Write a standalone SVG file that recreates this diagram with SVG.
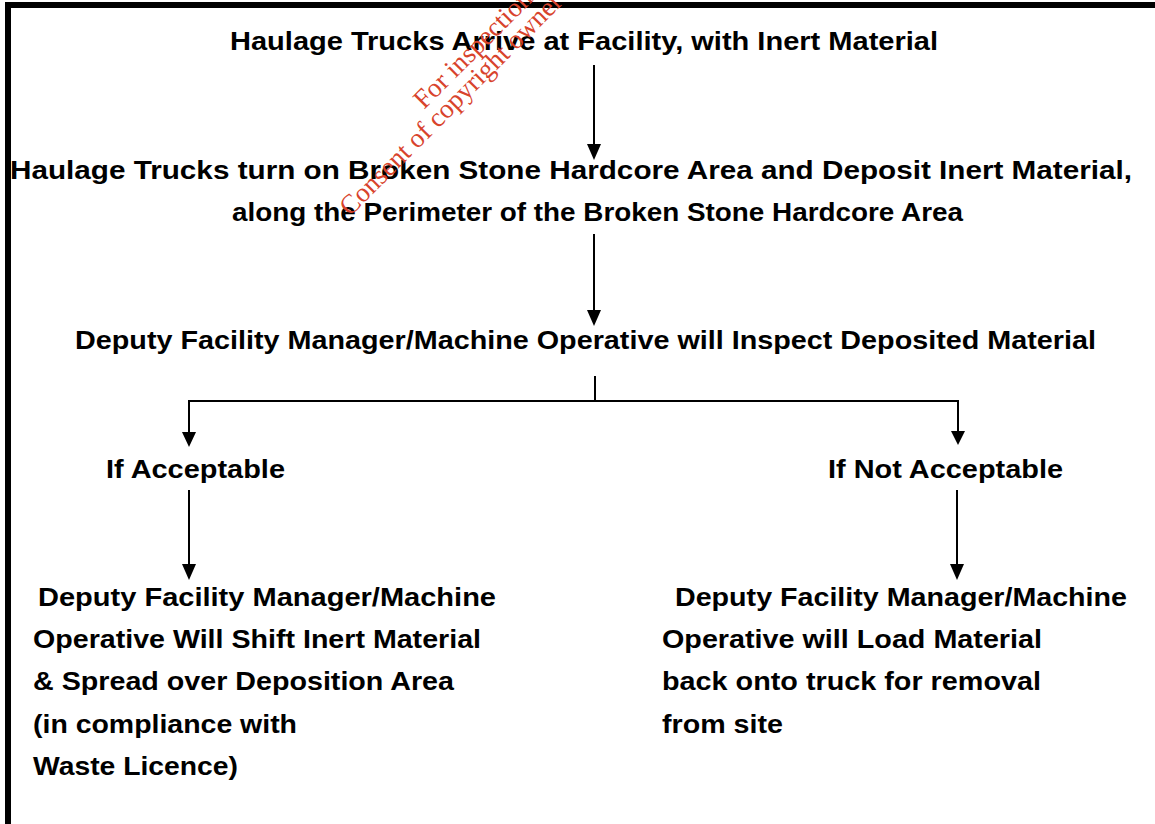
<svg xmlns="http://www.w3.org/2000/svg" width="1155" height="824" viewBox="0 0 1155 824">
<style>
.t{font-family:"Liberation Sans",Arial,sans-serif;font-weight:bold;font-size:26px;fill:#000}
.w{font-family:"Liberation Serif","Times New Roman",serif;font-size:27px;fill:#d8432c}
.c{stroke:#000;stroke-width:2;fill:none}
.h{fill:#000}
</style>
<rect x="0" y="0" width="1155" height="824" fill="#fff"/>
<path d="M8,830 V5 H1160" fill="none" stroke="#000" stroke-width="6"/>
<g id="n1"><text class="t" x="230" y="50" textLength="708" lengthAdjust="spacingAndGlyphs">Haulage Trucks Arrive at Facility, with Inert Material</text></g>
<g id="n2"><text class="t" x="10" y="179" textLength="1122" lengthAdjust="spacingAndGlyphs">Haulage Trucks turn on Broken Stone Hardcore Area and Deposit Inert Material,</text>
<text class="t" x="232" y="221" textLength="731" lengthAdjust="spacingAndGlyphs">along the Perimeter of the Broken Stone Hardcore Area</text></g>
<g id="n3"><text class="t" x="75" y="349" textLength="1021" lengthAdjust="spacingAndGlyphs">Deputy Facility Manager/Machine Operative will Inspect Deposited Material</text></g>
<g id="n4"><text class="t" x="106" y="478" textLength="179" lengthAdjust="spacingAndGlyphs">If Acceptable</text></g>
<g id="n5"><text class="t" x="828" y="478" textLength="235" lengthAdjust="spacingAndGlyphs">If Not Acceptable</text></g>
<g id="n6">
<text class="t" x="38" y="606" textLength="458" lengthAdjust="spacingAndGlyphs">Deputy Facility Manager/Machine</text>
<text class="t" x="33" y="648" textLength="448" lengthAdjust="spacingAndGlyphs">Operative Will Shift Inert Material</text>
<text class="t" x="33" y="690" textLength="421" lengthAdjust="spacingAndGlyphs">&amp; Spread over Deposition Area</text>
<text class="t" x="33" y="733" textLength="264" lengthAdjust="spacingAndGlyphs">(in compliance with</text>
<text class="t" x="33" y="775" textLength="205" lengthAdjust="spacingAndGlyphs">Waste Licence)</text>
</g>
<g id="n7">
<text class="t" x="675" y="606" textLength="452" lengthAdjust="spacingAndGlyphs">Deputy Facility Manager/Machine</text>
<text class="t" x="662" y="648" textLength="380" lengthAdjust="spacingAndGlyphs">Operative will Load Material</text>
<text class="t" x="662" y="690" textLength="379" lengthAdjust="spacingAndGlyphs">back onto truck for removal</text>
<text class="t" x="662" y="733" textLength="121" lengthAdjust="spacingAndGlyphs">from site</text>
</g>
<g id="connectors">
<path class="c" d="M594,65 V146"/><polygon class="h" points="587,144 601,144 594,160"/>
<path class="c" d="M594,234 V312"/><polygon class="h" points="587,310 601,310 594,326"/>
<path class="c" d="M595,376 V401 M189,401 H958 M189,400 V434 M958,400 V434"/>
<polygon class="h" points="182,432 196,432 189,447"/>
<polygon class="h" points="951,431 965,431 958,445"/>
<path class="c" d="M189,490 V566 M957,490 V566"/>
<polygon class="h" points="182,564 196,564 189,580"/>
<polygon class="h" points="950,564 964,564 957,580"/>
</g>
<g id="watermark">
<text class="w" transform="translate(424,110) rotate(-45)">For inspection purposes only.</text>
<text class="w" transform="translate(350,217) rotate(-45)">Consent of copyright owner required for any other use.</text>
</g>
</svg>
